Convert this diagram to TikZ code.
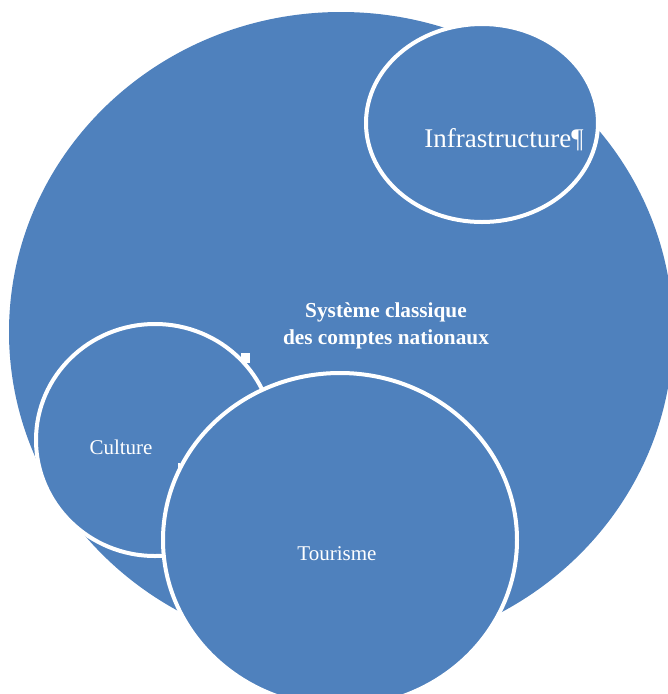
\documentclass[tikz,border=0pt]{standalone}
\usepackage{fontspec}
\setmainfont{Liberation Serif}
\definecolor{ofblue}{RGB}{79,129,189}
\begin{document}
\begin{tikzpicture}[x=1pt,y=-1pt,
  bubble/.style={fill=ofblue,draw=white,line width=4pt},
  lbl/.style={text=white,inner sep=0pt,anchor=base},
  smallfont/.style={font=\fontsize{21}{25}\selectfont},
  boldfont/.style={font=\fontsize{21.3}{27}\selectfont\bfseries}]
\useasboundingbox (0,0) rectangle (668,694);
\begin{scope}
\clip (0,0) rectangle (668,694);
\fill[ofblue] (341,332) ellipse [x radius=332, y radius=320];
\path[bubble] (482,123) ellipse [x radius=116, y radius=99];
\path[bubble] (155,440) ellipse [x radius=119, y radius=116];
\fill[white] (241,353) rectangle (250,363);
\fill[white] (177.5,463) rectangle (179.5,475);
\path[bubble] (340,540) ellipse [x radius=177, y radius=167];
\end{scope}
\node[lbl,font=\fontsize{27}{30}\selectfont] (infra) at (504,147) {Infrastructure¶};
\node[lbl,boldfont] (sys1) at (386,317) {Système classique};
\node[lbl,boldfont] (sys2) at (386,344) {des comptes nationaux};
\node[lbl,smallfont] (cult) at (121,454) {Culture};
\node[lbl,smallfont] (tour) at (337,560) {Tourisme};
\end{tikzpicture}
\end{document}
